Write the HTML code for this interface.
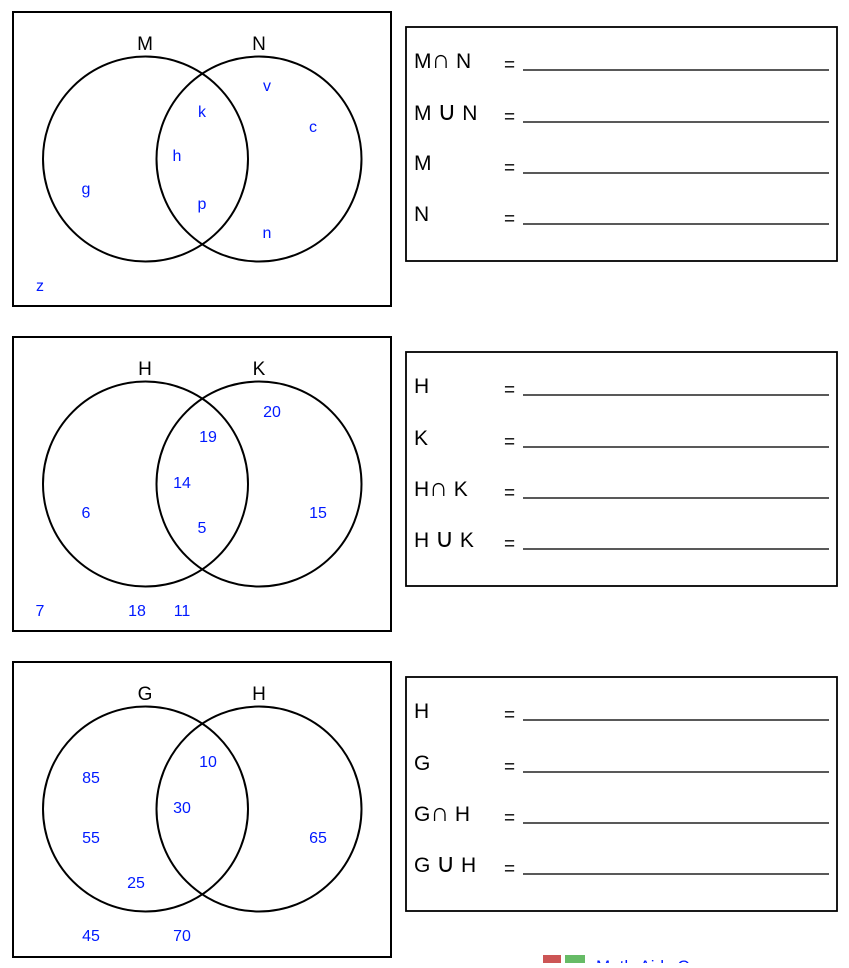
<!DOCTYPE html>
<html><head><meta charset="utf-8"><style>body{margin:0;background:#fff}</style></head><body>
<svg width="849" height="963" xmlns="http://www.w3.org/2000/svg" font-family="Liberation Sans, sans-serif">
<g fill="none" stroke="#000" stroke-width="2">
<rect x="13" y="12" width="378" height="294"/>
<rect x="13" y="337" width="378" height="294"/>
<rect x="13" y="662" width="378" height="295"/>
<rect x="406" y="27" width="431" height="234" stroke-width="1.8"/>
<rect x="406" y="352" width="431" height="234" stroke-width="1.8"/>
<rect x="406" y="677" width="431" height="234" stroke-width="1.8"/>
<circle cx="145.5" cy="159" r="102.5"/><circle cx="259" cy="159" r="102.5"/>
<circle cx="145.5" cy="484" r="102.5"/><circle cx="259" cy="484" r="102.5"/>
<circle cx="145.5" cy="809" r="102.5"/><circle cx="259" cy="809" r="102.5"/>
</g>
<g stroke="#222" stroke-width="1.4">
<line x1="523" y1="70" x2="829" y2="70"/><line x1="523" y1="122" x2="829" y2="122"/><line x1="523" y1="173" x2="829" y2="173"/><line x1="523" y1="224" x2="829" y2="224"/>
<line x1="523" y1="395" x2="829" y2="395"/><line x1="523" y1="447" x2="829" y2="447"/><line x1="523" y1="498" x2="829" y2="498"/><line x1="523" y1="549" x2="829" y2="549"/>
<line x1="523" y1="720" x2="829" y2="720"/><line x1="523" y1="772" x2="829" y2="772"/><line x1="523" y1="823" x2="829" y2="823"/><line x1="523" y1="874" x2="829" y2="874"/>
</g>
<g font-size="19" fill="#000" text-anchor="middle">
<text x="145" y="50">M</text><text x="259" y="50">N</text>
<text x="145" y="375">H</text><text x="259" y="375">K</text>
<text x="145" y="700">G</text><text x="259" y="700">H</text>
</g>
<g font-size="21" fill="#000">
<text x="414" y="68">M<tspan font-size="26">∩</tspan> N</text><text x="414" y="120">M <tspan font-size="26">∪</tspan> N</text><text x="414" y="170">M</text><text x="414" y="221">N</text>
<text x="414" y="393">H</text><text x="414" y="445">K</text><text x="414" y="496">H<tspan font-size="26">∩</tspan> K</text><text x="414" y="547">H <tspan font-size="26">∪</tspan> K</text>
<text x="414" y="718">H</text><text x="414" y="770">G</text><text x="414" y="821">G<tspan font-size="26">∩</tspan> H</text><text x="414" y="872">G <tspan font-size="26">∪</tspan> H</text>
</g>
<g font-size="19" fill="#000">
<text x="504" y="71">=</text><text x="504" y="123">=</text><text x="504" y="174">=</text><text x="504" y="225">=</text>
<text x="504" y="396">=</text><text x="504" y="448">=</text><text x="504" y="499">=</text><text x="504" y="550">=</text>
<text x="504" y="721">=</text><text x="504" y="773">=</text><text x="504" y="824">=</text><text x="504" y="875">=</text>
</g>
<g font-size="16" fill="#0019ff" text-anchor="middle">
<text x="267" y="91">v</text><text x="202" y="117">k</text><text x="313" y="132">c</text><text x="177" y="161">h</text><text x="86" y="194">g</text><text x="202" y="209">p</text><text x="267" y="238">n</text><text x="40" y="291">z</text>
<text x="272" y="417">20</text><text x="208" y="442">19</text><text x="182" y="488">14</text><text x="86" y="518">6</text><text x="318" y="518">15</text><text x="202" y="533">5</text><text x="40" y="616">7</text><text x="137" y="616">18</text><text x="182" y="616">11</text>
<text x="208" y="767">10</text><text x="91" y="783">85</text><text x="182" y="813">30</text><text x="91" y="843">55</text><text x="318" y="843">65</text><text x="136" y="888">25</text><text x="91" y="941">45</text><text x="182" y="941">70</text>
</g>
<rect x="543" y="955" width="18" height="10" fill="#c55"/><rect x="565" y="955" width="20" height="10" fill="#6b6"/>
<text x="596" y="972" font-size="17" fill="#0019ff">Math-Aids.Com</text>
</svg>
</body></html>
